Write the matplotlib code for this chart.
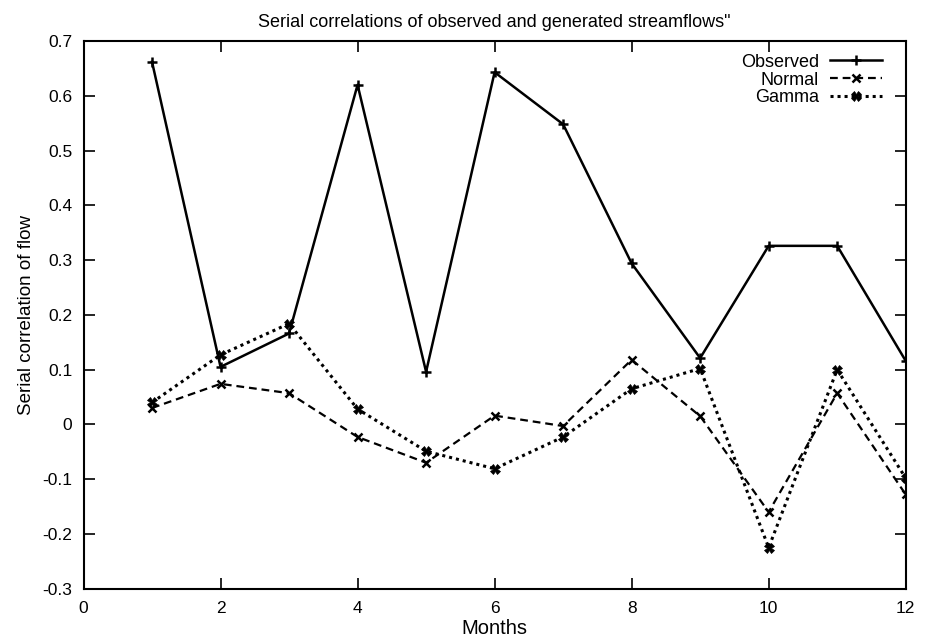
import matplotlib
matplotlib.use("Agg")
import matplotlib.pyplot as plt

plt.rcParams['font.family'] = ['Liberation Sans', 'DejaVu Sans']

months = [1, 2, 3, 4, 5, 6, 7, 8, 9, 10, 11, 12]
observed = [0.662, 0.105, 0.166, 0.620, 0.096, 0.643, 0.548, 0.294, 0.121, 0.326, 0.326, 0.116]
normal = [0.030, 0.074, 0.057, -0.023, -0.070, 0.016, -0.003, 0.118, 0.015, -0.160, 0.057, -0.128]
gamma = [0.040, 0.127, 0.184, 0.028, -0.049, -0.081, -0.023, 0.065, 0.102, -0.225, 0.100, -0.098]

x_ticks = [0, 2, 4, 6, 8, 10, 12]
y_ticks = [-0.3, -0.2, -0.1, 0, 0.1, 0.2, 0.3, 0.4, 0.5, 0.6, 0.7]
y_tick_labels = ["-0.3", "-0.2", "-0.1", "0", "0.1", "0.2", "0.3", "0.4", "0.5", "0.6", "0.7"]

fig = plt.figure(figsize=(9.33, 6.42), dpi=100)
ax = fig.add_axes([83.5 / 933, 1 - 588.7 / 642, (905.7 - 83.5) / 933, (588.7 - 41) / 642])

ax.plot(months, observed, color='black', lw=1.8, linestyle='-',
        marker='+', markersize=6.5, markeredgewidth=1.8, label='Observed')
ax.plot(months, normal, color='black', lw=1.6, linestyle=(0, (3.5, 2.2)),
        marker='x', markersize=6, markeredgewidth=1.8, label='Normal')
ax.plot(months, gamma, color='black', lw=2.2, linestyle=(0, (1, 1.3)),
        marker='X', markersize=7, markeredgewidth=0.5, label='Gamma')

ax.set_xlim(0, 12)
ax.set_ylim(-0.3, 0.7)
ax.set_xticks(x_ticks)
ax.set_yticks(y_ticks)
ax.set_yticklabels(y_tick_labels)
ax.tick_params(direction='in', length=8, width=1.2, top=True, right=True,
               labelsize=12.5)
ax.tick_params(axis='x', pad=9)
ax.tick_params(axis='y', pad=8)
for s in ax.spines.values():
    s.set_linewidth(1.5)

ax.set_xlabel('Months', fontsize=14.5, labelpad=2)
ax.set_ylabel('Serial correlation of flow', fontsize=13.5, labelpad=5)
ax.set_title('Serial correlations of observed and generated streamflows"',
             fontsize=13, pad=10)

leg = ax.legend(loc='upper right', markerfirst=False, frameon=False,
                fontsize=13, handlelength=2.9, handletextpad=0.6,
                labelspacing=0.05, borderaxespad=0.3,
                bbox_to_anchor=(0.987, 1.0))
for t in leg.get_texts():
    t.set_ha('right')

fig.savefig('out.png', dpi=100)
